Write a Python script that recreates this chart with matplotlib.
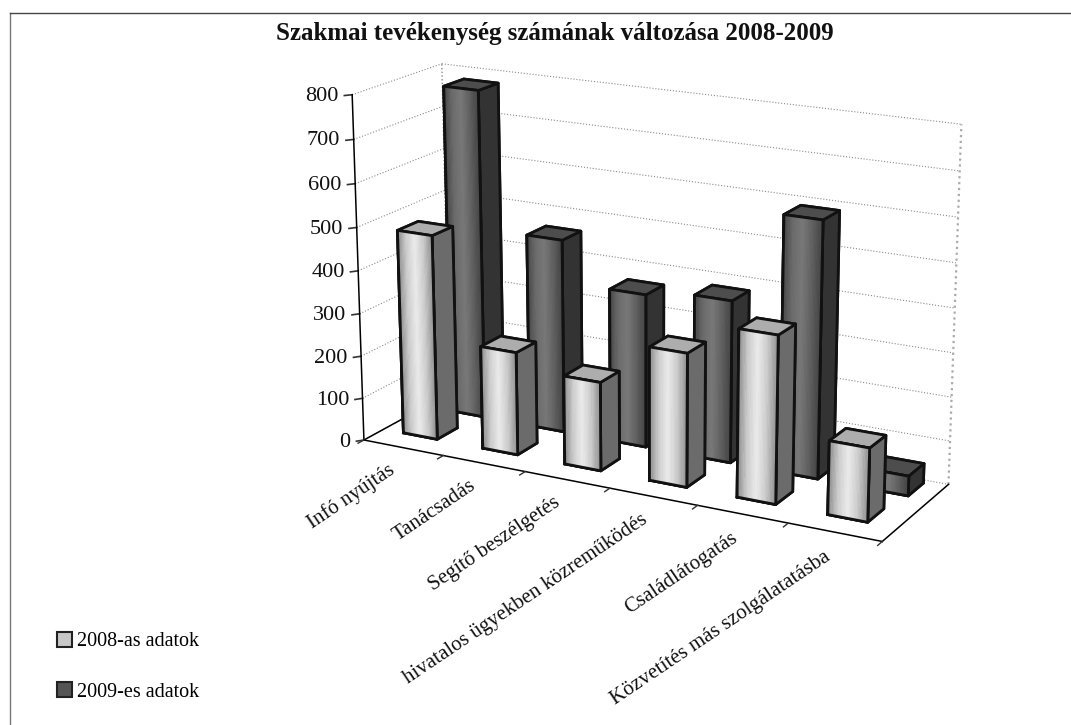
import numpy as np
import matplotlib
matplotlib.use('Agg')
import matplotlib.pyplot as plt
from matplotlib.patches import Patch
from matplotlib.lines import Line2D
from mpl_toolkits.mplot3d import proj3d

categories = ['Infó nyújtás', 'Tanácsadás', 'Segítő beszélgetés',
              'hivatalos ügyekben közreműködés', 'Családlátogatás',
              'Közvetítés más szolgálatatásba']
adat_2008 = [480, 240, 205, 305, 378, 165]
adat_2009 = [775, 455, 358, 375, 585, 45]
z_ticks = [0, 100, 200, 300, 400, 500, 600, 700, 800]
title = 'Szakmai tevékenység számának változása 2008-2009'
series_names = ['2008-as adatok', '2009-es adatok']

plt.rcParams['font.family'] = ['Liberation Serif', 'DejaVu Serif']

fig = plt.figure(figsize=(10.71, 7.25), dpi=100)
ax = fig.add_axes([-0.21, -0.323, 1.6, 1.8], projection='3d', computed_zorder=False)
ax.set_proj_type('persp', focal_length=0.37)
ax.view_init(elev=17, azim=-62)
ax.set_box_aspect((3.5, 1.0, 2.2), zoom=0.53)
ax.set_axis_off()
n = len(categories)
ax.set_xlim(0, n)
ax.set_ylim(0, 2)
ax.set_zlim(0, 800)


def text3(x, y, z, s, **kw):
    # 3d text ignores rotation, so place it in 2d
    xp, yp, _ = proj3d.proj_transform(x, y, z, ax.get_proj())
    ax.text2D(xp, yp, s, transform=ax.transData, color='#111111', **kw)


grey = '#8a8a8a'
# walls
for z in z_ticks:
    ax.plot([0, 0], [0, 2], [z, z], color=grey, lw=0.8, ls=':', zorder=1)
    ax.plot([0, n], [2, 2], [z, z], color=grey, lw=0.8, ls=':', zorder=1)
    ax.plot([-0.05, 0], [-0.08, 0], [z, z], color='#333333', lw=1.2, zorder=2)
    text3(-0.09, -0.14, z, str(z), ha='right', va='center', fontsize=16)
ax.plot([0, 0], [2, 2], [0, 800], color=grey, lw=1.0, ls=':', zorder=1)
ax.plot([n, n], [2, 2], [0, 800], color='#aaaaaa', lw=1.6, ls=':', zorder=1)
ax.plot([n, n], [0, 2], [0, 0], color='black', lw=1.1, zorder=2)
ax.plot([0, 0], [0, 2], [0, 0], color='black', lw=1.1, zorder=2)
ax.plot([0, n], [0, 0], [0, 0], color='black', lw=1.1, zorder=2)
ax.plot([0, 0], [0, 0], [0, 800], color='black', lw=1.1, zorder=2)

# category ticks and labels
for i in range(n + 1):
    ax.plot([i, i], [0, -0.13], [0, 0], color='#333333', lw=1.0, zorder=2)
for i, c in enumerate(categories):
    text3(i + 0.56, -0.46, 0, c, rotation=34, rotation_mode='anchor', ha='right', va='top',
          fontsize=15)


def draw_bar(x, y, w, d, h, ramp, side, top, zo):
    ax.bar3d(x, y, 0, w, d, h, color=['k', top, 'k', 'k', 'k', side], shade=False,
             edgecolor='#111111', linewidth=2.0, zorder=zo)
    vals = np.interp(np.linspace(0, 1, 30), np.linspace(0, 1, len(ramp)), ramp)
    xs = np.linspace(x, x + w, len(vals) + 1)
    X, Z = np.meshgrid(xs, [0, h])
    Y = np.full_like(X, y)
    cols = np.array([[[v, v, v, 1.0] for v in vals]])
    ax.plot_surface(X, Y, Z, facecolors=cols, rstride=1, cstride=1, shade=False,
                    linewidth=0, antialiased=False, zorder=zo + 0.1)
    ax.plot([x, x + w, x + w, x, x], [y] * 5, [0, 0, h, h, 0], color='#111111', lw=2.0,
            zorder=zo + 0.2)


ramp_light = [0.55, 0.8, 0.92, 0.8, 0.58]
ramp_dark = [0.28, 0.42, 0.47, 0.38, 0.27]
bw = 0.43
bd = 0.47
for i, v in enumerate(adat_2009):
    draw_bar(i + 0.33, 1.43, bw, bd, v, ramp_dark, '0.2', '0.3', 10 + i)
for i, v in enumerate(adat_2008):
    draw_bar(i + 0.25, 0.45, bw, bd, v, ramp_light, '0.42', '0.68', 30 + i)

fig.text(0.518, 0.954, title, ha='center', va='center', fontsize=18, fontweight='bold', color='#111111')

# frame
fig.add_artist(Line2D([10 / 1071, 10 / 1071], [0, 712 / 725], color='#777777', lw=1.0))
fig.add_artist(Line2D([10 / 1071, 1], [712 / 725, 712 / 725], color='#444444', lw=1.0))

handles = [Patch(facecolor='#c8c8c8', edgecolor='#222222', linewidth=1.5),
           Patch(facecolor='#555555', edgecolor='#222222', linewidth=1.5)]
fig.legend(handles, series_names, loc='lower left', bbox_to_anchor=(0.053, 0.032), frameon=False,
           fontsize=14.5, handlelength=0.75, handleheight=0.75, handletextpad=0.25, labelspacing=1.55,
           borderaxespad=0, borderpad=0)

fig.savefig('out.png', dpi=100)
